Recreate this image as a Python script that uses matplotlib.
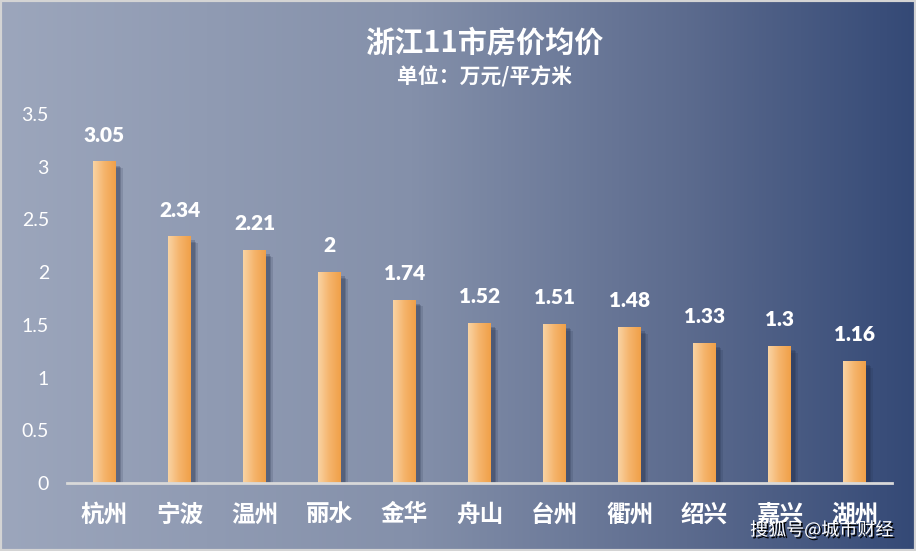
import numpy as np
import matplotlib
matplotlib.use("Agg")
import matplotlib.pyplot as plt
import matplotlib.patheffects as pe
from matplotlib.colors import LinearSegmentedColormap
from matplotlib.patches import Rectangle

cities = ['杭州', '宁波', '温州', '丽水', '金华', '舟山', '台州', '衢州', '绍兴', '嘉兴', '湖州']
prices = [3.05, 2.34, 2.21, 2, 1.74, 1.52, 1.51, 1.48, 1.33, 1.3, 1.16]
price_labels = ['3.05', '2.34', '2.21', '2', '1.74', '1.52', '1.51', '1.48', '1.33', '1.3', '1.16']
yticks = [0, 0.5, 1, 1.5, 2, 2.5, 3, 3.5]
ytick_labels = ['0', '0.5', '1', '1.5', '2', '2.5', '3', '3.5']

cjk = ['Noto Sans CJK SC', 'DejaVu Sans']
num = ['Lato', 'DejaVu Sans']

fig = plt.figure(figsize=(9.16, 5.51), dpi=100)

# background gradient + thin light frame
bg_cmap = LinearSegmentedColormap.from_list('bg', [
    (0.0, (156/255, 166/255, 188/255)),
    (0.45, (132/255, 144/255, 170/255)),
    (0.75, (92/255, 107/255, 142/255)),
    (1.0, (52/255, 73/255, 118/255)),
])
bg = fig.add_axes([0, 0, 1, 1], zorder=0)
bg.imshow(np.linspace(0, 1, 512)[None, :], cmap=bg_cmap, aspect='auto', extent=[0, 1, 0, 1])
bg.add_patch(Rectangle((0, 0), 1, 1, transform=bg.transAxes, fill=False,
                       edgecolor='#d4d4d4', linewidth=3))
bg.set_axis_off()

ax = fig.add_axes([67/916, 1-483/551, (892-67)/916, (483-114)/551], zorder=1)
ax.patch.set_alpha(0)
x = np.arange(len(cities))
bars = ax.bar(x, prices, width=0.30, color='none', edgecolor='none', zorder=3)

# orange gradient fill clipped to each bar, soft shadow behind
bar_cmap = LinearSegmentedColormap.from_list('bar', ['#f9d3a3', '#f5b46c', '#f0a048'])
grad = np.linspace(0, 1, 64)[None, :]
for b in bars:
    b.set_path_effects([
        pe.SimplePatchShadow(offset=(5, -5), shadow_rgbFace='#1f2a44', alpha=0.15),
        pe.SimplePatchShadow(offset=(4, -4), shadow_rgbFace='#1f2a44', alpha=0.2),
        pe.SimplePatchShadow(offset=(3, -3), shadow_rgbFace='#1f2a44', alpha=0.22),
    ])
    x0, w, h = b.get_x(), b.get_width(), b.get_height()
    im = ax.imshow(grad, cmap=bar_cmap, aspect='auto', extent=[x0, x0 + w, 0, h], zorder=4)
    im.set_clip_path(b)

for xi, v, lab in zip(x, prices, price_labels):
    ax.annotate(lab, (xi, v), xytext=(0, 12), textcoords='offset points',
                ha='center', va='bottom', color='white', fontsize=15,
                fontweight='heavy', family=num, zorder=5)

ax.set_xlim(-0.5, len(cities) - 0.5)
ax.set_ylim(0, 3.5)
ax.set_yticks(yticks)
ax.set_yticklabels(ytick_labels, family=num, fontsize=14, color='white')
ax.set_xticks(x)
ax.set_xticklabels(cities, family=cjk, fontsize=17, fontweight='bold', color='white')
ax.tick_params(axis='y', length=0, pad=13)
ax.tick_params(axis='x', length=0, pad=14)
for s in ['top', 'right', 'left']:
    ax.spines[s].set_visible(False)
ax.spines['bottom'].set_color('#d9d9d9')
ax.spines['bottom'].set_linewidth(2)
ax.spines['bottom'].set_zorder(6)

fig.text(484/916, 1-43/551, '浙江11市房价均价', ha='center', va='center',
         color='white', fontsize=21, fontweight='bold', family=cjk)
fig.text(485/916, 1-76/551, '单位：万元/平方米', ha='center', va='center',
         color='white', fontsize=15, fontweight='bold', family=cjk)
fig.text(893/916, 1-530/551, '搜狐号@城市财经', ha='right', va='center',
         color='white', fontsize=13, family=cjk, zorder=10,
         path_effects=[pe.withSimplePatchShadow(offset=(1.3, -1.3),
                                                shadow_rgbFace='black', alpha=1.0)])

fig.savefig('out.png', dpi=100)
